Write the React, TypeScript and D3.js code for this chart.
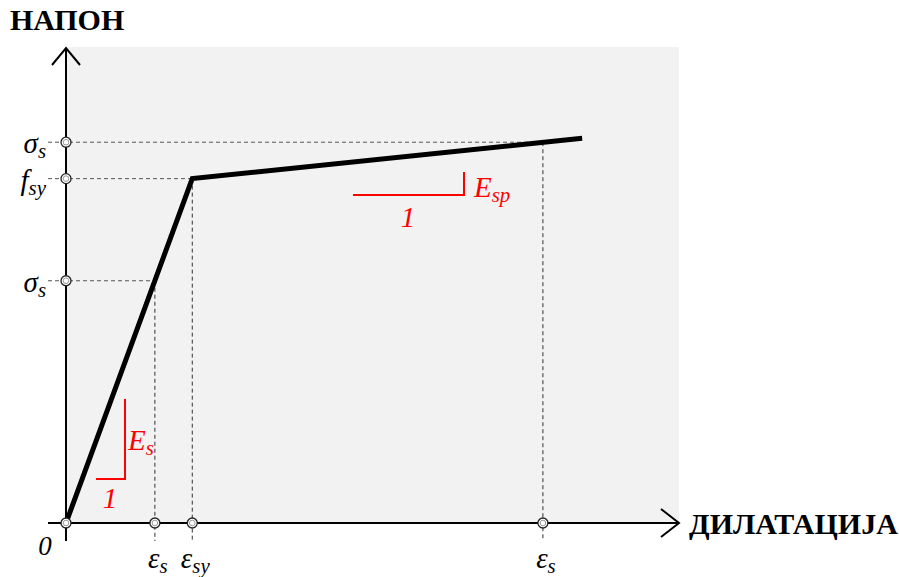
import * as d3 from "d3";

// strain (per mille) and stress (MPa)
const curveStrain = [0, 2.06, 8.42];
const curveStress = [0, 435, 486];

const strainTicks = [0, 1.45, 2.06, 7.78];
const strainStress = [0, 306, 435, 481];
const strainLabels = [
  { base: "0", sub: "" },
  { base: "ε", sub: "s" },
  { base: "ε", sub: "sy" },
  { base: "ε", sub: "s" },
];

const stressTicks = [481, 435, 306];
const stressStrain = [7.78, 2.06, 1.45];
const stressLabels = [
  { base: "σ", sub: "s" },
  { base: "f", sub: "sy" },
  { base: "σ", sub: "s" },
];

const WIDTH = 899;
const HEIGHT = 577;
const FONT = "Liberation Serif, serif";
const RED = "#ff0000";

const x = d3.scaleLinear().domain([0, 10]).range([66, 679]);
const y = d3.scaleLinear().domain([0, 600]).range([523, 48]);

const line = d3
  .line<number>()
  .x((d) => x(d))
  .y((_, i) => y(curveStress[i]));

const Label = ({ base, sub, px, py, anchor, color = "#000", size = 29 }) => (
  <text
    x={px}
    y={py}
    textAnchor={anchor}
    style={{ fontFamily: FONT }}
    fontStyle="italic"
    fontSize={size}
    fill={color}
  >
    {base}
    {sub && (
      <tspan fontSize={size * 0.72} dy={5}>
        {sub}
      </tspan>
    )}
  </text>
);

const Marker = ({ cx, cy }) => (
  <g>
    <circle cx={cx} cy={cy} r={5} fill="#fff" stroke="#222" strokeWidth={1.3} />
    <circle cx={cx} cy={cy} r={2.8} fill="#fff" stroke="#999" strokeWidth={1} />
  </g>
);

export default function App() {
  const x0 = x(0);
  const y0 = y(0);
  // slope triangles
  const esX = 125;
  const esTop = 399;
  const esBot = 479;
  const espY = 195;

  return (
    <svg
      width={WIDTH}
      height={HEIGHT}
      style={{ position: "absolute", left: 0, top: 0, background: "#fff" }}
    >
      <rect x={x0} y={47} width={x(10) - x0} height={y0 - 47} fill="#f2f2f2" />

      {/* dashed guides */}
      {stressTicks.map((s, i) => (
        <line
          key={"h" + i}
          x1={48}
          x2={x(stressStrain[i])}
          y1={y(s)}
          y2={y(s)}
          stroke="#555"
          strokeWidth={1}
          strokeDasharray="4,3"
        />
      ))}
      {strainTicks.slice(1).map((e, i) => (
        <line
          key={"v" + i}
          x1={x(e)}
          x2={x(e)}
          y1={y(strainStress[i + 1])}
          y2={541}
          stroke="#333"
          strokeWidth={1}
          strokeDasharray="4,3"
        />
      ))}

      {/* axes */}
      <line x1={x0} x2={x0} y1={541} y2={48} stroke="#000" strokeWidth={2} />
      <polyline
        points={`${x0 - 14},65 ${x0},48 ${x0 + 14},65`}
        fill="none"
        stroke="#000"
        strokeWidth={2}
      />
      <line x1={48} x2={679} y1={y0} y2={y0} stroke="#000" strokeWidth={2} />
      <polyline
        points={`661,${y0 - 14} 679,${y0} 661,${y0 + 14}`}
        fill="none"
        stroke="#000"
        strokeWidth={2}
      />

      {/* stress-strain curve */}
      <path d={line(curveStrain) ?? ""} fill="none" stroke="#000" strokeWidth={5} />

      {/* slope markers */}
      <polyline
        points={`${esX},${esTop} ${esX},${esBot} 96,${esBot}`}
        fill="none"
        stroke={RED}
        strokeWidth={2}
      />
      <Label base="E" sub="s" px={128} py={450} anchor="start" color={RED} />
      <Label base="1" sub="" px={110} py={508} anchor="middle" color={RED} />
      <polyline
        points={`353,${espY} 464,${espY} 464,172`}
        fill="none"
        stroke={RED}
        strokeWidth={2}
      />
      <Label base="E" sub="sp" px={474} py={197} anchor="start" color={RED} />
      <Label base="1" sub="" px={408} py={227} anchor="middle" color={RED} />

      {/* markers on axes */}
      {stressTicks.map((s, i) => (
        <Marker key={"ym" + i} cx={x0} cy={y(s)} />
      ))}
      {strainTicks.map((e, i) => (
        <Marker key={"xm" + i} cx={x(e)} cy={y0} />
      ))}

      {/* tick labels */}
      {stressTicks.map((s, i) => (
        <Label
          key={"yl" + i}
          base={stressLabels[i].base}
          sub={stressLabels[i].sub}
          px={46}
          py={y(s) + 11}
          anchor="end"
        />
      ))}
      {strainTicks.map((e, i) =>
        i === 0 ? (
          <Label key="xl0" base="0" sub="" px={45} py={555} anchor="middle" size={27} />
        ) : (
          <Label
            key={"xl" + i}
            base={strainLabels[i].base}
            sub={strainLabels[i].sub}
            px={x(e) + 3}
            py={568}
            anchor="middle"
          />
        )
      )}

      {/* axis titles */}
      <text x={10} y={30} style={{ fontFamily: FONT }} fontWeight="bold" fontSize={30}>
        НАПОН
      </text>
      <text x={689} y={534} style={{ fontFamily: FONT }} fontWeight="bold" fontSize={30}>
        ДИЛАТАЦИЈА
      </text>
    </svg>
  );
}
